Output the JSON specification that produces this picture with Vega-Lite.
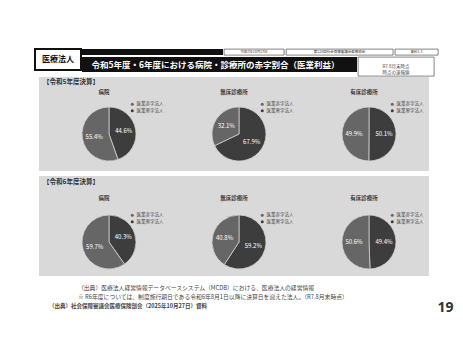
{
  "$schema": "https://vega.github.io/schema/vega-lite/v6.json",
  "background": "white",
  "padding": {"left": 34, "top": 48, "right": 0, "bottom": 0},
  "config": {
    "view": {"stroke": null},
    "font": "Noto Sans CJK JP",
    "range": {"category": ["#666666", "#3d3d3d"]},
    "legend": {"orient": "top-right", "offset": 5, "labelFontSize": 4.5, "labelColor": "#444444", "symbolSize": 9, "symbolType": "circle", "rowPadding": 1.5, "padding": 0, "labelOffset": 2, "symbolStrokeWidth": 0, "labelFont": "Noto Sans CJK JP"}
  },
  "datasets": {
    "pies": [
      {"year": "R5", "type": "病院", "cat": "医業黒字法人", "share": 0.446},
      {"year": "R5", "type": "病院", "cat": "医業赤字法人", "share": 0.554},
      {"year": "R5", "type": "無床診療所", "cat": "医業黒字法人", "share": 0.679},
      {"year": "R5", "type": "無床診療所", "cat": "医業赤字法人", "share": 0.321},
      {"year": "R5", "type": "有床診療所", "cat": "医業黒字法人", "share": 0.501},
      {"year": "R5", "type": "有床診療所", "cat": "医業赤字法人", "share": 0.499},
      {"year": "R6", "type": "病院", "cat": "医業黒字法人", "share": 0.403},
      {"year": "R6", "type": "病院", "cat": "医業赤字法人", "share": 0.597},
      {"year": "R6", "type": "無床診療所", "cat": "医業黒字法人", "share": 0.592},
      {"year": "R6", "type": "無床診療所", "cat": "医業赤字法人", "share": 0.408},
      {"year": "R6", "type": "有床診療所", "cat": "医業黒字法人", "share": 0.494},
      {"year": "R6", "type": "有床診療所", "cat": "医業赤字法人", "share": 0.506}
    ]
  },
  "spacing": 0,
  "resolve": {"scale": {"color": "independent", "theta": "independent"}, "legend": {"color": "independent"}},
  "vconcat": [
    {
      "spacing": 0,
      "hconcat": [
        {"width": 46, "height": 21, "data": {"values": [{}]}, "mark": {"type": "text", "text": "医療法人", "fontSize": 8, "fontWeight": "bold", "color": "#111111"}, "view": {"fill": "white", "stroke": "#111111", "strokeWidth": 2}},
        {
          "spacing": 0,
          "vconcat": [
            {
              "spacing": 0,
              "hconcat": [
                {"width": 141, "height": 6, "data": {"values": [{}]}, "mark": {"type": "text", "text": "", "fontSize": 0}, "view": {"fill": "#111111"}},
                {"width": 60, "height": 6, "data": {"values": [{}]}, "mark": {"type": "text", "text": "令和7年10月27日", "fontSize": 3.5, "color": "#333333"}, "view": {"fill": "white", "stroke": "#333333", "strokeWidth": 0.6}},
                {"width": 107, "height": 6, "data": {"values": [{}]}, "mark": {"type": "text", "text": "第120回社会保障審議会医療部会", "fontSize": 3.5, "color": "#333333"}, "view": {"fill": "white", "stroke": "#333333", "strokeWidth": 0.6}},
                {"width": 43, "height": 6, "data": {"values": [{}]}, "mark": {"type": "text", "text": "資料1-3", "fontSize": 3.5, "color": "#333333"}, "view": {"fill": "white", "stroke": "#333333", "strokeWidth": 0.6}}
              ]
            },
            {
              "spacing": 0,
              "hconcat": [
                {"width": 275, "height": 15, "data": {"values": [{}]}, "mark": {"type": "text", "text": "令和5年度・6年度における病院・診療所の赤字割合（医業利益）", "fontSize": 8.5, "fontWeight": "bold", "color": "white", "dx": -4}, "view": {"fill": "#111111"}},
                {"width": 76, "height": 19, "data": {"values": [{}]}, "mark": {"type": "text", "text": ["R7.8月末時点", "時点の速報値"], "fontSize": 4.5, "lineHeight": 6, "color": "#444444"}, "view": {"fill": "white", "stroke": "#333333", "strokeWidth": 0.6}}
              ]
            }
          ]
        }
      ]
    },
    {
      "spacing": 0,
      "resolve": {"scale": {"color": "independent", "theta": "independent"}, "legend": {"color": "independent"}},
      "hconcat": [
        {"width": 4, "height": 1, "data": {"values": [{}]}, "mark": {"type": "text", "text": "", "fontSize": 0}},
        {
          "spacing": 0,
          "resolve": {"scale": {"color": "independent", "theta": "independent"}, "legend": {"color": "independent"}},
          "vconcat": [
            {
              "spacing": 0,
              "hconcat": [
                {"width": 64, "height": 10, "data": {"values": [{}]}, "mark": {"type": "text", "text": "【令和5年度決算】", "fontSize": 6.5, "fontWeight": "bold", "color": "#333333"}, "view": {"fill": "#d9d9d9"}},
                {"width": 326, "height": 10, "data": {"values": [{}]}, "mark": {"type": "text", "text": "", "fontSize": 0}, "view": {"fill": "#d9d9d9"}}
              ]
            },
            {
              "spacing": 0,
              "resolve": {"scale": {"color": "independent", "theta": "independent"}, "legend": {"color": "independent"}},
              "hconcat": [
                {
                  "spacing": 0,
                  "resolve": {"scale": {"color": "independent", "theta": "independent"}, "legend": {"color": "independent"}},
                  "vconcat": [
                    {"width": 130, "height": 10, "data": {"values": [{}]}, "mark": {"type": "text", "text": "病院", "fontSize": 5.5, "fontWeight": "bold", "color": "#333333"}, "view": {"fill": "#d9d9d9"}},
                    {
                      "spacing": 0,
                      "resolve": {"scale": {"color": "independent", "theta": "independent"}, "legend": {"color": "independent"}},
                      "hconcat": [
                        {"width": 10, "height": 74, "data": {"values": [{}]}, "mark": {"type": "text", "text": "", "fontSize": 0}, "view": {"fill": "#d9d9d9"}},
                        {
                          "width": 120, "height": 74, "view": {"fill": "#d9d9d9"},
                          "data": {"name": "pies"},
                          "transform": [{"filter": "datum.year === 'R5' && datum.type === '病院'"}],
                          "encoding": {"theta": {"field": "share", "type": "quantitative", "stack": true}, "order": {"field": "cat", "type": "ordinal", "sort": "descending"}},
                          "layer": [
                            {"mark": {"type": "arc", "outerRadius": 27, "stroke": "#d0d0d0", "strokeWidth": 0.8}, "encoding": {"color": {"field": "cat", "type": "nominal", "legend": {"title": null}}}},
                            {"mark": {"type": "text", "radius": 15, "fontSize": 6, "color": "white"}, "encoding": {"text": {"field": "share", "type": "quantitative", "format": ".1%"}, "detail": {"field": "cat"}}}
                          ]
                        }
                      ]
                    }
                  ]
                },
                {
                  "spacing": 0,
                  "resolve": {"scale": {"color": "independent", "theta": "independent"}, "legend": {"color": "independent"}},
                  "vconcat": [
                    {"width": 130, "height": 10, "data": {"values": [{}]}, "mark": {"type": "text", "text": "無床診療所", "fontSize": 5.5, "fontWeight": "bold", "color": "#333333"}, "view": {"fill": "#d9d9d9"}},
                    {
                      "spacing": 0,
                      "resolve": {"scale": {"color": "independent", "theta": "independent"}, "legend": {"color": "independent"}},
                      "hconcat": [
                        {"width": 10, "height": 74, "data": {"values": [{}]}, "mark": {"type": "text", "text": "", "fontSize": 0}, "view": {"fill": "#d9d9d9"}},
                        {
                          "width": 120, "height": 74, "view": {"fill": "#d9d9d9"},
                          "data": {"name": "pies"},
                          "transform": [{"filter": "datum.year === 'R5' && datum.type === '無床診療所'"}],
                          "encoding": {"theta": {"field": "share", "type": "quantitative", "stack": true}, "order": {"field": "cat", "type": "ordinal", "sort": "descending"}},
                          "layer": [
                            {"mark": {"type": "arc", "outerRadius": 27, "stroke": "#d0d0d0", "strokeWidth": 0.8}, "encoding": {"color": {"field": "cat", "type": "nominal", "legend": {"title": null}}}},
                            {"mark": {"type": "text", "radius": 15, "fontSize": 6, "color": "white"}, "encoding": {"text": {"field": "share", "type": "quantitative", "format": ".1%"}, "detail": {"field": "cat"}}}
                          ]
                        }
                      ]
                    }
                  ]
                },
                {
                  "spacing": 0,
                  "resolve": {"scale": {"color": "independent", "theta": "independent"}, "legend": {"color": "independent"}},
                  "vconcat": [
                    {"width": 130, "height": 10, "data": {"values": [{}]}, "mark": {"type": "text", "text": "有床診療所", "fontSize": 5.5, "fontWeight": "bold", "color": "#333333"}, "view": {"fill": "#d9d9d9"}},
                    {
                      "spacing": 0,
                      "resolve": {"scale": {"color": "independent", "theta": "independent"}, "legend": {"color": "independent"}},
                      "hconcat": [
                        {"width": 10, "height": 74, "data": {"values": [{}]}, "mark": {"type": "text", "text": "", "fontSize": 0}, "view": {"fill": "#d9d9d9"}},
                        {
                          "width": 120, "height": 74, "view": {"fill": "#d9d9d9"},
                          "data": {"name": "pies"},
                          "transform": [{"filter": "datum.year === 'R5' && datum.type === '有床診療所'"}],
                          "encoding": {"theta": {"field": "share", "type": "quantitative", "stack": true}, "order": {"field": "cat", "type": "ordinal", "sort": "descending"}},
                          "layer": [
                            {"mark": {"type": "arc", "outerRadius": 27, "stroke": "#d0d0d0", "strokeWidth": 0.8}, "encoding": {"color": {"field": "cat", "type": "nominal", "legend": {"title": null}}}},
                            {"mark": {"type": "text", "radius": 15, "fontSize": 6, "color": "white"}, "encoding": {"text": {"field": "share", "type": "quantitative", "format": ".1%"}, "detail": {"field": "cat"}}}
                          ]
                        }
                      ]
                    }
                  ]
                }
              ]
            }
          ]
        }
      ]
    },
    {"width": 1, "height": 5, "data": {"values": [{}]}, "mark": {"type": "text", "text": "", "fontSize": 0}},
    {
      "spacing": 0,
      "resolve": {"scale": {"color": "independent", "theta": "independent"}, "legend": {"color": "independent"}},
      "hconcat": [
        {"width": 4, "height": 1, "data": {"values": [{}]}, "mark": {"type": "text", "text": "", "fontSize": 0}},
        {
          "spacing": 0,
          "resolve": {"scale": {"color": "independent", "theta": "independent"}, "legend": {"color": "independent"}},
          "vconcat": [
            {
              "spacing": 0,
              "hconcat": [
                {"width": 64, "height": 12, "data": {"values": [{}]}, "mark": {"type": "text", "text": "【令和6年度決算】", "fontSize": 6.5, "fontWeight": "bold", "color": "#333333"}, "view": {"fill": "#d9d9d9"}},
                {"width": 326, "height": 12, "data": {"values": [{}]}, "mark": {"type": "text", "text": "", "fontSize": 0}, "view": {"fill": "#d9d9d9"}}
              ]
            },
            {
              "spacing": 0,
              "resolve": {"scale": {"color": "independent", "theta": "independent"}, "legend": {"color": "independent"}},
              "hconcat": [
                {
                  "spacing": 0,
                  "resolve": {"scale": {"color": "independent", "theta": "independent"}, "legend": {"color": "independent"}},
                  "vconcat": [
                    {"width": 130, "height": 20, "data": {"values": [{}]}, "mark": {"type": "text", "text": "病院", "fontSize": 5.5, "fontWeight": "bold", "color": "#333333"}, "view": {"fill": "#d9d9d9"}},
                    {
                      "spacing": 0,
                      "resolve": {"scale": {"color": "independent", "theta": "independent"}, "legend": {"color": "independent"}},
                      "hconcat": [
                        {"width": 10, "height": 68, "data": {"values": [{}]}, "mark": {"type": "text", "text": "", "fontSize": 0}, "view": {"fill": "#d9d9d9"}},
                        {
                          "width": 120, "height": 68, "view": {"fill": "#d9d9d9"},
                          "data": {"name": "pies"},
                          "transform": [{"filter": "datum.year === 'R6' && datum.type === '病院'"}],
                          "encoding": {"theta": {"field": "share", "type": "quantitative", "stack": true}, "order": {"field": "cat", "type": "ordinal", "sort": "descending"}},
                          "layer": [
                            {"mark": {"type": "arc", "outerRadius": 27, "stroke": "#d0d0d0", "strokeWidth": 0.8}, "encoding": {"color": {"field": "cat", "type": "nominal", "legend": {"title": null}}}},
                            {"mark": {"type": "text", "radius": 15, "fontSize": 6, "color": "white"}, "encoding": {"text": {"field": "share", "type": "quantitative", "format": ".1%"}, "detail": {"field": "cat"}}}
                          ]
                        }
                      ]
                    }
                  ]
                },
                {
                  "spacing": 0,
                  "resolve": {"scale": {"color": "independent", "theta": "independent"}, "legend": {"color": "independent"}},
                  "vconcat": [
                    {"width": 130, "height": 20, "data": {"values": [{}]}, "mark": {"type": "text", "text": "無床診療所", "fontSize": 5.5, "fontWeight": "bold", "color": "#333333"}, "view": {"fill": "#d9d9d9"}},
                    {
                      "spacing": 0,
                      "resolve": {"scale": {"color": "independent", "theta": "independent"}, "legend": {"color": "independent"}},
                      "hconcat": [
                        {"width": 10, "height": 68, "data": {"values": [{}]}, "mark": {"type": "text", "text": "", "fontSize": 0}, "view": {"fill": "#d9d9d9"}},
                        {
                          "width": 120, "height": 68, "view": {"fill": "#d9d9d9"},
                          "data": {"name": "pies"},
                          "transform": [{"filter": "datum.year === 'R6' && datum.type === '無床診療所'"}],
                          "encoding": {"theta": {"field": "share", "type": "quantitative", "stack": true}, "order": {"field": "cat", "type": "ordinal", "sort": "descending"}},
                          "layer": [
                            {"mark": {"type": "arc", "outerRadius": 27, "stroke": "#d0d0d0", "strokeWidth": 0.8}, "encoding": {"color": {"field": "cat", "type": "nominal", "legend": {"title": null}}}},
                            {"mark": {"type": "text", "radius": 15, "fontSize": 6, "color": "white"}, "encoding": {"text": {"field": "share", "type": "quantitative", "format": ".1%"}, "detail": {"field": "cat"}}}
                          ]
                        }
                      ]
                    }
                  ]
                },
                {
                  "spacing": 0,
                  "resolve": {"scale": {"color": "independent", "theta": "independent"}, "legend": {"color": "independent"}},
                  "vconcat": [
                    {"width": 130, "height": 20, "data": {"values": [{}]}, "mark": {"type": "text", "text": "有床診療所", "fontSize": 5.5, "fontWeight": "bold", "color": "#333333"}, "view": {"fill": "#d9d9d9"}},
                    {
                      "spacing": 0,
                      "resolve": {"scale": {"color": "independent", "theta": "independent"}, "legend": {"color": "independent"}},
                      "hconcat": [
                        {"width": 10, "height": 68, "data": {"values": [{}]}, "mark": {"type": "text", "text": "", "fontSize": 0}, "view": {"fill": "#d9d9d9"}},
                        {
                          "width": 120, "height": 68, "view": {"fill": "#d9d9d9"},
                          "data": {"name": "pies"},
                          "transform": [{"filter": "datum.year === 'R6' && datum.type === '有床診療所'"}],
                          "encoding": {"theta": {"field": "share", "type": "quantitative", "stack": true}, "order": {"field": "cat", "type": "ordinal", "sort": "descending"}},
                          "layer": [
                            {"mark": {"type": "arc", "outerRadius": 27, "stroke": "#d0d0d0", "strokeWidth": 0.8}, "encoding": {"color": {"field": "cat", "type": "nominal", "legend": {"title": null}}}},
                            {"mark": {"type": "text", "radius": 15, "fontSize": 6, "color": "white"}, "encoding": {"text": {"field": "share", "type": "quantitative", "format": ".1%"}, "detail": {"field": "cat"}}}
                          ]
                        }
                      ]
                    }
                  ]
                }
              ]
            }
          ]
        }
      ]
    },
    {"width": 1, "height": 9, "data": {"values": [{}]}, "mark": {"type": "text", "text": "", "fontSize": 0}},
    {
      "spacing": 0,
      "hconcat": [
        {"width": 14, "height": 1, "data": {"values": [{}]}, "mark": {"type": "text", "text": "", "fontSize": 0}},
        {
          "spacing": 0,
          "vconcat": [
            {
              "spacing": 0,
              "hconcat": [
                {"width": 29, "height": 1, "data": {"values": [{}]}, "mark": {"type": "text", "text": "", "fontSize": 0}},
                {"width": 355, "height": 1, "data": {"values": [{}]}, "mark": {"type": "text", "text": "", "fontSize": 0}, "title": {"text": ["（出典）医療法人経営情報データベースシステム（MCDB）における、医療法人の経営情報", "※ R6年度については、制度施行期日である令和6年8月1日以降に決算日を迎えた法人。（R7.8月末時点）"], "anchor": "start", "fontSize": 5.8, "fontWeight": "normal", "color": "#444444", "offset": 0, "lineHeight": 9}}
              ]
            },
            {"width": 1, "height": 2, "data": {"values": [{}]}, "mark": {"type": "text", "text": "", "fontSize": 0}},
            {"width": 384, "height": 1, "data": {"values": [{}]}, "mark": {"type": "text", "text": "", "fontSize": 0}, "title": {"text": "（出典）社会保障審議会医療保険部会（2025年10月27日）資料", "anchor": "start", "fontSize": 5.5, "fontWeight": "bold", "color": "#444444", "offset": 0}}
          ]
        },
        {"width": 25, "height": 16, "data": {"values": [{}]}, "mark": {"type": "text", "text": "19", "fontSize": 14, "font": "Noto Sans", "fontWeight": "bold", "color": "#333333"}}
      ]
    }
  ]
}
